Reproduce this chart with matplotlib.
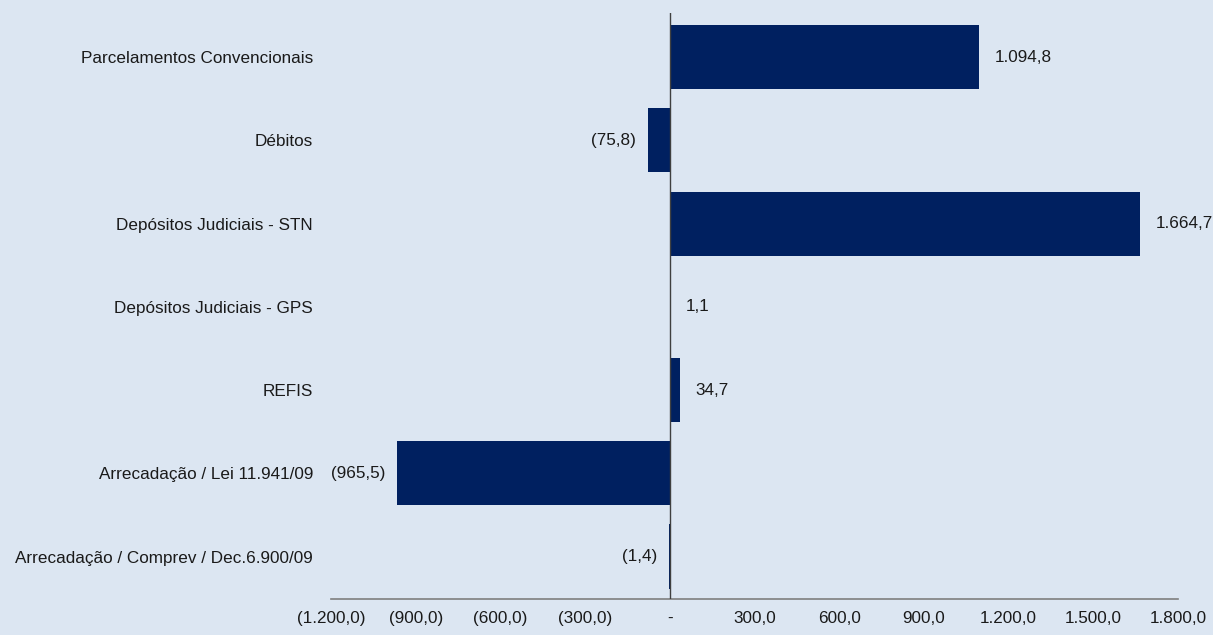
import matplotlib.pyplot as plt
import numpy as np

plt.rcParams["font.family"] = ["Liberation Sans", "DejaVu Sans"]

categories = [
    "Parcelamentos Convencionais",
    "Débitos",
    "Depósitos Judiciais - STN",
    "Depósitos Judiciais - GPS",
    "REFIS",
    "Arrecadação / Lei 11.941/09",
    "Arrecadação / Comprev / Dec.6.900/09",
]
values = [1094.8, -75.8, 1664.7, 1.1, 34.7, -965.5, -1.4]
x_ticks = [-1200, -900, -600, -300, 0, 300, 600, 900, 1200, 1500, 1800]

BG = "#dce6f2"
BAR = "#002060"
TEXT = "#1a1a1a"


def fmt_br(v):
    """Brazilian number format, negatives in parentheses, zero as '-'."""
    if v == 0:
        return "-"
    s = f"{abs(v):,.1f}".replace(",", "X").replace(".", ",").replace("X", ".")
    return f"({s})" if v < 0 else s


fig = plt.figure(figsize=(12.13, 6.35), dpi=100, facecolor=BG)
ax = fig.add_axes([0.2729, 0.0567, 0.6981, 0.9228], facecolor=BG)

y = np.arange(len(categories))
ax.barh(y, values, height=0.77, color=BAR, zorder=2)

ax.set_xlim(-1200, 1800)
ax.set_ylim(len(categories) - 0.49, -0.53)

ax.set_yticks(y)
ax.set_yticklabels(categories, fontsize=12.3, color=TEXT)
ax.set_xticks(x_ticks)
ax.set_xticklabels([fmt_br(t) for t in x_ticks], fontsize=12.3, color=TEXT)
ax.tick_params(axis="both", length=0)
ax.tick_params(axis="y", pad=13)
ax.tick_params(axis="x", pad=8.5)

for side in ["top", "right", "left"]:
    ax.spines[side].set_visible(False)
ax.spines["bottom"].set_color("#7f7f7f")
ax.spines["bottom"].set_linewidth(1.2)
ax.axvline(0, color="#404040", linewidth=1.0, zorder=3)

# value labels beside each bar end
for yi, v in zip(y, values):
    if v >= 0:
        ax.annotate(fmt_br(v), (v, yi), xytext=(16, 0), textcoords="offset pixels",
                    ha="left", va="center", fontsize=12.3, color=TEXT,
                    annotation_clip=False)
    else:
        ax.annotate(fmt_br(v), (v, yi), xytext=(-12, 0), textcoords="offset pixels",
                    ha="right", va="center", fontsize=12.3, color=TEXT,
                    annotation_clip=False)

fig.savefig("out.png", dpi=100, facecolor=BG)
